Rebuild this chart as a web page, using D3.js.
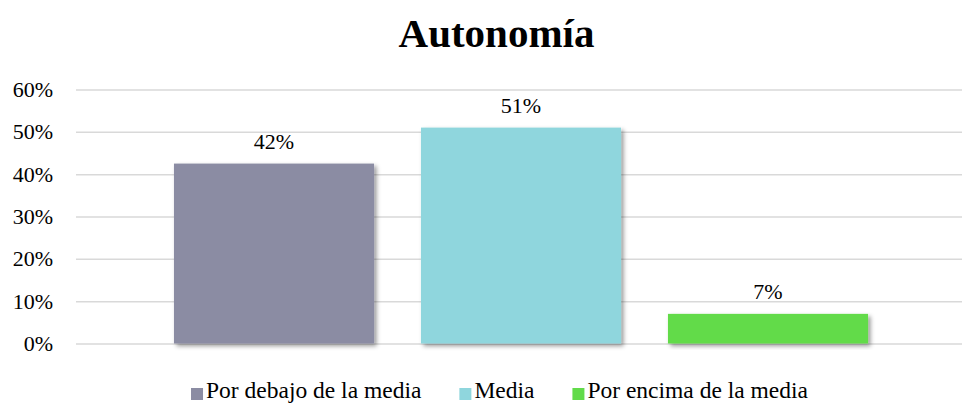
<!DOCTYPE html>
<html>
<head>
<meta charset="utf-8">
<script src="https://cdn.jsdelivr.net/npm/d3@7"></script>
<style>
  body { margin: 0; background: #fff; }
  text { font-family: "Liberation Serif", "Times New Roman", serif; fill: #000; }
</style>
</head>
<body>
<svg id="chart"></svg>
<script>
// chart data
const categories = ["Por debajo de la media", "Media", "Por encima de la media"];
const values = [0.425, 0.51, 0.07];
const valueLabels = ["42%", "51%", "7%"];
const colors = ["#8b8ca3", "#8fd6dd", "#62db4a"];
const yTicks = [0, 0.1, 0.2, 0.3, 0.4, 0.5, 0.6];

const width = 962;
const height = 403;

const svg = d3.select("#chart")
    .attr("width", width)
    .attr("height", height)
    .attr("viewBox", [0, 0, width, height]);

// soft shadow under the bars
const defs = svg.append("defs");
defs.append("filter")
    .attr("id", "shadow")
    .attr("x", "-10%").attr("y", "-10%")
    .attr("width", "130%").attr("height", "130%")
    .append("feDropShadow")
    .attr("dx", 2.5)
    .attr("dy", 2.5)
    .attr("stdDeviation", 2)
    .attr("flood-color", "#000")
    .attr("flood-opacity", 0.4);

// scales
const y = d3.scaleLinear()
    .domain([0, 0.6])
    .range([343.5, 89.5]);

const x = d3.scaleBand()
    .domain(categories)
    .range([150.5, 891.5])
    .paddingInner(0.19)
    .paddingOuter(0.095);

// title
svg.append("text")
    .attr("x", 496.5)
    .attr("y", 47)
    .attr("text-anchor", "middle")
    .style("font-size", "41px")
    .style("font-weight", "bold")
    .text("Autonomía");

// gridlines + y labels
const yAxis = d3.axisLeft(y)
    .tickValues(yTicks)
    .tickFormat(d3.format(".0%"))
    .tickSize(-(width - 76))
    .tickPadding(23);

svg.append("g")
    .attr("transform", "translate(76,0)")
    .call(yAxis)
    .call(g => g.select(".domain").remove())
    .call(g => g.selectAll(".tick line")
        .attr("stroke", "#d9d9d9")
        .attr("stroke-width", 1.5))
    .call(g => g.selectAll(".tick text")
        .attr("fill", "#000")
        .style("font-family", "'Liberation Serif', 'Times New Roman', serif")
        .style("font-size", "22px"));

// bars
svg.append("g")
    .selectAll("rect")
    .data(categories)
    .join("rect")
    .attr("x", d => x(d))
    .attr("y", (d, i) => y(values[i]))
    .attr("width", x.bandwidth())
    .attr("height", (d, i) => y(0) - y(values[i]))
    .attr("fill", (d, i) => colors[i])
    .attr("filter", "url(#shadow)");

// value labels
svg.append("g")
    .selectAll("text")
    .data(categories)
    .join("text")
    .attr("x", d => x(d) + x.bandwidth() / 2)
    .attr("y", (d, i) => y(values[i]) - 15)
    .attr("text-anchor", "middle")
    .style("font-size", "22px")
    .text((d, i) => valueLabels[i]);

// legend
const legend = svg.append("g");
const items = legend.selectAll("g")
    .data(categories)
    .join("g");

items.append("rect")
    .attr("y", 388)
    .attr("width", 12)
    .attr("height", 12)
    .attr("fill", (d, i) => colors[i]);

items.append("text")
    .attr("x", 15)
    .attr("y", 398)
    .style("font-size", "23.5px")
    .text(d => d);

// lay out legend items side by side and center them
let offset = 0;
const gap = 38;
items.each(function() {
    const w = 15 + d3.select(this).select("text").node().getComputedTextLength();
    d3.select(this).attr("transform", `translate(${offset},0)`);
    offset += w + gap;
});
const total = offset - gap;
legend.attr("transform", `translate(${499.5 - total / 2},0)`);
</script>
</body>
</html>
